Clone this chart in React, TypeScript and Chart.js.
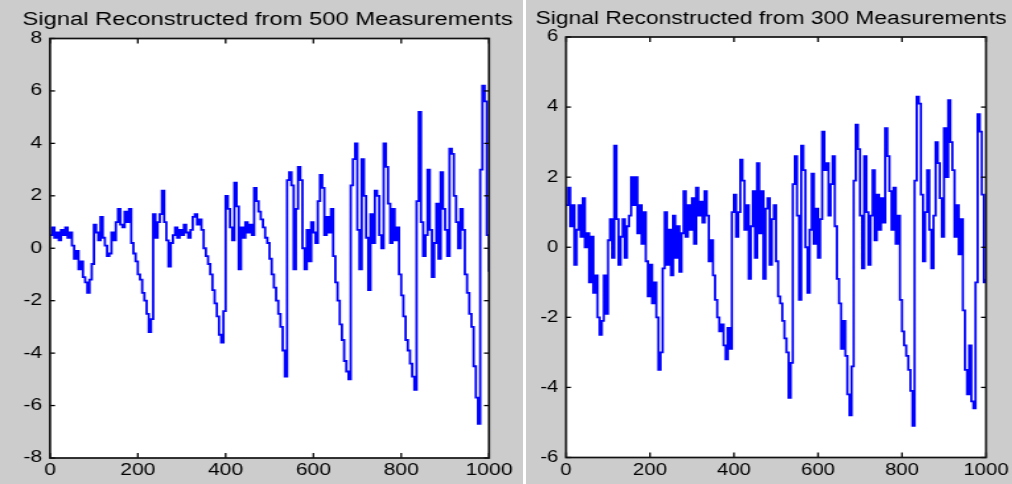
import React, { useEffect, useRef } from 'react';
import { Chart, registerables } from 'chart.js';

Chart.register(...registerables);

// Sample spacing along the x axis (sample index units)
const SAMPLE_STEP = 5;

const X_TICKS = [0, 200, 400, 600, 800, 1000];
const Y_TICKS_LEFT = [-8, -6, -4, -2, 0, 2, 4, 6, 8];
const Y_TICKS_RIGHT = [-6, -4, -2, 0, 2, 4, 6];

const TITLE_500 = 'Signal Reconstructed from 500 Measurements';
const TITLE_300 = 'Signal Reconstructed from 300 Measurements';

// Reconstructed signal (500 measurements), one value per SAMPLE_STEP
const SIGNAL_500 = [
  0.5, 0.8, 0.4, 0.6, 0.3, 0.7, 0.5, 0.8, 0.4, 0.6,
  0.1, -0.4, -0.1, -0.8, -0.5, -1.1, -1.3, -1.7, -1.2, -0.6,
  0.9, 0.6, 0.3, 1.2, 0.4, 0.1, -0.3, -0.2, 0.6, 0.3,
  1.0, 1.5, 0.9, 0.8, 1.4, 1.0, 1.5, 0.2, -0.2, -0.5,
  -1.0, -1.2, -1.7, -2.0, -2.5, -3.2, -2.7, 1.3, 0.4, 1.0,
  1.3, 2.2, 1.0, 0.3, -0.7, 0.2, 0.5, 0.8, 0.4, 0.7,
  0.5, 0.9, 0.6, 0.4, 0.7, 1.2, 1.3, 0.9, 1.1, 0.7,
  0.0, -0.3, -0.6, -1.0, -1.6, -2.1, -2.6, -3.3, -3.6, -2.4,
  2.0, 1.5, 0.8, 0.3, 2.5, 1.6, -0.8, 0.8, 0.4, 1.0,
  0.6, 0.9, 0.5, 2.3, 1.8, 1.4, 1.1, 0.8, 0.4, 0.2,
  -0.4, -1.0, -1.5, -2.0, -2.5, -3.0, -3.9, -4.9, 2.6, 2.9,
  2.4, -0.8, 1.5, 3.1, 2.6, 0.0, -0.8, 0.7, -0.5, 1.0,
  0.6, 0.2, 1.8, 2.8, 2.3, 0.5, 1.2, 0.6, 1.5, -0.3,
  -1.3, -2.0, -2.9, -3.5, -4.3, -4.7, -5.0, 2.4, 3.4, 4.0,
  0.7, -0.8, 3.4, 2.0, 0.4, -1.6, 1.3, 0.2, 2.2, 2.0,
  0.5, 0.0, 4.0, 3.1, 1.7, 0.2, 1.5, 0.3, 0.8, -1.0,
  -1.8, -2.6, -3.5, -3.9, -4.4, -4.9, -5.4, 1.8, 5.2, 1.0,
  -0.3, 0.5, 3.0, 0.7, -1.1, 0.2, 1.7, -0.4, 2.9, 1.5,
  0.7, -0.3, 3.8, 3.6, 2.0, 1.0, 0.0, 1.5, 0.7, -1.0,
  -1.7, -2.5, -3.0, -4.5, -5.7, -6.7, 3.0, 6.2, 5.6, 0.5,
  -0.9,
];

// Reconstructed signal (300 measurements), one value per SAMPLE_STEP
const SIGNAL_300 = [
  1.2, 1.7, 0.6, 1.2, -0.5, 0.5, 1.2, 0.3, 1.4, 0.0,
  0.4, -1.0, 0.3, -1.3, -0.8, -2.0, -2.5, -2.1, -0.8, -1.9,
  0.2, 0.8, -0.3, 2.9, 0.8, -0.5, 0.3, 0.8, -0.3, 0.6,
  0.9, 2.0, 1.2, 2.0, 0.4, 1.2, 0.1, 1.0, -0.4, -1.4,
  -0.5, -1.6, -1.0, -2.0, -3.5, -3.0, -0.6, 1.0, -0.5, 0.5,
  -0.8, 0.9, -0.3, 0.6, -0.7, 0.4, 1.6, 0.3, 1.2, 0.5,
  1.4, 0.1, 1.7, 0.9, 1.3, 0.7, 1.6, 0.9, -0.4, 0.2,
  -0.8, -1.5, -2.0, -2.4, -2.2, -2.8, -3.2, -2.3, -2.9, 1.0,
  1.5, 0.3, 1.0, 2.5, 1.9, 0.5, 1.2, -0.9, 0.6, 1.6,
  -0.3, 2.4, 0.4, 1.6, -0.9, 1.1, 1.4, -0.5, 0.8, 1.2,
  -0.4, -1.4, -1.6, -2.1, -2.6, -3.0, -4.3, -3.3, 1.8, 2.6,
  0.9, -1.5, 2.9, 2.2, 0.0, -1.3, 0.5, 2.1, 0.1, 1.1,
  -0.3, 0.8, 3.3, 2.2, 2.4, 0.9, 1.8, 2.6, 0.6, -0.9,
  -1.6, -2.9, -2.1, -3.1, -4.2, -4.8, -3.4, 1.9, 3.5, 2.8,
  0.9, -0.6, 2.6, 1.0, -0.5, 0.9, 2.2, 0.2, 1.5, 0.5,
  1.4, 0.7, 3.4, 2.6, 1.6, 0.5, 1.7, 0.1, 0.9, -1.5,
  -2.4, -2.8, -3.1, -3.5, -4.1, -5.1, 1.9, 4.3, 4.1, 1.5,
  -0.4, 1.0, 2.2, 0.5, -0.6, 0.9, 3.0, 2.4, 1.4, 0.3,
  3.4, 2.0, 4.2, 3.0, 2.2, 0.3, 1.2, -0.2, 0.8, -1.8,
  -3.5, -4.2, -2.8, -4.4, -4.6, -1.0, 3.8, 3.3, 1.5, -1.0,
  -0.9,
];

type PanelCfg = {
  title: string;
  values: number[];
  yTicks: number[];
  cssW: number;
  w: number;
  plotLeft: number; // css px
  plotRight: number; // css px
  plotTop: number;
  plotBottom: number;
  titleTop: number;
  titleCenter: number; // css px, local to panel
};

const FONT = "'Liberation Sans', Arial, Helvetica, sans-serif";

function Panel({ cfg }: { cfg: PanelCfg }) {
  const ref = useRef<HTMLCanvasElement>(null);
  useEffect(() => {
    const canvas = ref.current!;
    const sx = cfg.cssW / cfg.w;
    const H = 484;
    // left layout padding chosen so the full-width title box is centred where the reference title is
    const padLeft = Math.max(0, 2 * (cfg.titleCenter / sx) - cfg.w);
    const yWidth = cfg.plotLeft / sx - padLeft;
    const padRight = cfg.w - cfg.plotRight / sx;
    const xHeight = H - cfg.plotBottom;
    const titleSize = 18;
    const titleLine = titleSize * 1.2;
    const titleBottom = cfg.plotTop - cfg.titleTop - titleLine;

    const frameTicks = {
      id: 'frameTicks',
      beforeDraw(chart: any) {
        const { ctx, chartArea: a } = chart;
        ctx.save();
        ctx.fillStyle = '#ffffff';
        ctx.fillRect(a.left, a.top, a.right - a.left, a.bottom - a.top);
        ctx.restore();
      },
      afterDatasetsDraw(chart: any) {
        const { ctx, chartArea: a, scales } = chart;
        ctx.save();
        ctx.strokeStyle = '#000000';
        ctx.lineWidth = 1.3;
        const tl = 5;
        const line = (x1: number, y1: number, x2: number, y2: number) => {
          ctx.beginPath();
          ctx.moveTo(x1, y1);
          ctx.lineTo(x2, y2);
          ctx.stroke();
        };
        scales.x.ticks.forEach((t: any) => {
          const px = scales.x.getPixelForValue(t.value);
          line(px, a.bottom, px, a.bottom - tl);
          line(px, a.top, px, a.top + tl);
        });
        scales.y.ticks.forEach((t: any) => {
          const py = scales.y.getPixelForValue(t.value);
          line(a.left, py, a.left + tl / sx, py);
          line(a.right, py, a.right - tl / sx, py);
        });
        ctx.lineWidth = 1.7;
        ctx.strokeStyle = '#111111';
        ctx.strokeRect(a.left, a.top, a.right - a.left, a.bottom - a.top);
        ctx.restore();
      },
    };

    const data = cfg.values.map((v, i) => ({ x: i * SAMPLE_STEP, y: v }));
    const yMin = cfg.yTicks[0];
    const yMax = cfg.yTicks[cfg.yTicks.length - 1];

    const chart = new Chart(canvas, {
      type: 'line',
      data: {
        datasets: [
          {
            data,
            borderColor: '#0000ff',
            borderWidth: 1.8,
            pointRadius: 0,
            stepped: true,
            fill: false,
            tension: 0,
          },
        ],
      },
      options: {
        animation: false,
        responsive: false,
        devicePixelRatio: 1,
        events: [],
        layout: { padding: { left: padLeft, right: 0, top: 0, bottom: 0 } },
        plugins: {
          legend: { display: false },
          tooltip: { enabled: false },
          title: {
            display: true,
            text: cfg.title,
            fullSize: true,
            color: '#000000',
            font: { family: FONT, size: titleSize, weight: 'normal', lineHeight: 1.2 },
            padding: { top: cfg.titleTop, bottom: titleBottom },
          },
        },
        scales: {
          x: {
            type: 'linear',
            min: 0,
            max: 1000,
            grid: { display: false, drawTicks: false },
            border: { display: false },
            afterBuildTicks: (s: any) => {
              s.ticks = X_TICKS.map((v) => ({ value: v }));
            },
            afterFit: (s: any) => {
              s.height = xHeight;
              s.paddingRight = padRight;
            },
            ticks: {
              color: '#000000',
              font: { family: FONT, size: 16 },
              padding: 3,
              maxRotation: 0,
              autoSkip: false,
              callback: (v: any) => String(v),
            },
          },
          y: {
            type: 'linear',
            min: yMin,
            max: yMax,
            grid: { display: false, drawTicks: false },
            border: { display: false },
            afterBuildTicks: (s: any) => {
              s.ticks = cfg.yTicks.map((v) => ({ value: v }));
            },
            afterFit: (s: any) => {
              s.width = yWidth;
            },
            ticks: {
              color: '#000000',
              font: { family: FONT, size: 16 },
              padding: 6,
              autoSkip: false,
              callback: (v: any) => String(v),
            },
          },
        },
      },
      plugins: [frameTicks],
    } as any);
    return () => chart.destroy();
  }, [cfg]);

  return (
    <canvas
      ref={ref}
      width={cfg.w}
      height={484}
      style={{ width: cfg.cssW + 'px', height: '484px', display: 'block' }}
    />
  );
}

const LEFT_CFG: PanelCfg = {
  title: TITLE_500,
  values: SIGNAL_500,
  yTicks: Y_TICKS_LEFT,
  cssW: 523,
  w: 396,
  plotLeft: 50,
  plotRight: 489,
  plotTop: 38.5,
  plotBottom: 458,
  titleTop: 9.6,
  titleCenter: 267.5,
};

const RIGHT_CFG: PanelCfg = {
  title: TITLE_300,
  values: SIGNAL_300,
  yTicks: Y_TICKS_RIGHT,
  cssW: 486,
  w: 383,
  plotLeft: 40,
  plotRight: 460,
  plotTop: 37,
  plotBottom: 457.5,
  titleTop: 8.5,
  titleCenter: 245,
};

export default function App() {
  return (
    <div
      style={{
        position: 'fixed',
        left: 0,
        top: 0,
        width: 1012,
        height: 484,
        background: '#ffffff',
        overflow: 'hidden',
      }}
    >
      <div style={{ position: 'absolute', left: 0, top: 0, width: 523, height: 484, background: '#cccccc' }}>
        <Panel cfg={LEFT_CFG} />
      </div>
      <div style={{ position: 'absolute', left: 526, top: 0, width: 486, height: 484, background: '#cccccc' }}>
        <Panel cfg={RIGHT_CFG} />
      </div>
    </div>
  );
}
